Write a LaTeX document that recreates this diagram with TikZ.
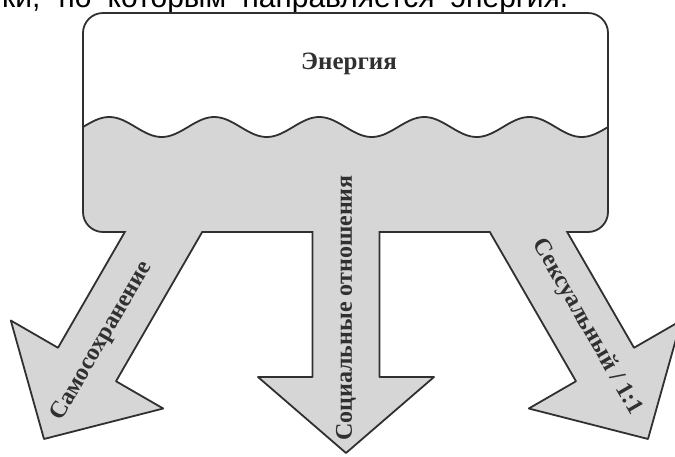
\documentclass[tikz,border=0pt]{standalone}
\usepackage{fontspec}
\setmainfont{Liberation Serif}
\newfontfamily\capfont{Liberation Sans}
\usetikzlibrary{calc,positioning}
\definecolor{tankgray}{RGB}{214,214,214}
\definecolor{inkgray}{RGB}{48,48,48}
\tikzset{
tank line/.style={draw=inkgray, line width=1.8pt, line join=round}, % outlines of tank and arrows
flow fill/.style={fill=tankgray},
label text/.style={font=\bfseries\fontsize{24}{26}\selectfont, text=inkgray, inner sep=0pt},
}
% arrow outline in its own frame: #1 = where the head starts, #2 = tip
\newcommand{\flowpath}[2]{(-33.5,-30) -- (-33.5,#1) -- (-88,#1) -- (0,#2) -- (88,#1) -- (33.5,#1) -- (33.5,-30)}

\begin{document}
\begin{tikzpicture}[x=1pt,y=1pt,yscale=-1]
\useasboundingbox (0,0) rectangle (675,456);
\clip (0,0) rectangle (675,456);
%Caption line, cut by the page edge (justified in the source)
\node[anchor=base west, inner sep=0pt, text=black, font=\capfont\fontsize{30}{31}\selectfont] (caption) at (2,7.5) {\makebox[566pt][s]{ки, по которым направляется энергия.}};
%Tank liquid
\begin{scope}
\clip[rounded corners=20] (83,13) rectangle (608,232);
\fill[tankgray] plot[domain=83:608, samples=160] (\x,{127-10*sin(3.428571*(\x-83))}) -- (608,240) -- (83,240) -- cycle;
\end{scope}
%Tank outline
\draw[tank line, rounded corners=20] (83,13) rectangle (608,232);
%Wave
\draw[tank line] plot[domain=83:608, samples=160] (\x,{127-10*sin(3.428571*(\x-83))});
%Outlets
\coordinate (leftout) at (163.5,232);
\coordinate (midout) at (346,232);
\coordinate (rightout) at (528.5,232);
%Arrows
\foreach \org/\ang/\sh/\tip in {leftout/30/153/239, midout/0/145/221, rightout/-30/153/239}{
  \fill[flow fill, shift={(\org)}, rotate=\ang] \flowpath{\sh}{\tip} -- cycle;
}
\begin{scope}
\clip (0,231) rectangle (675,460);
\foreach \org/\ang/\sh/\tip in {leftout/30/153/239, midout/0/145/221, rightout/-30/153/239}{
  \draw[tank line, shift={(\org)}, rotate=\ang] \flowpath{\sh}{\tip};
}
\end{scope}
%Labels
\node[label text, font=\bfseries\fontsize{25}{27}\selectfont] (energy) at (349,64) {Энергия};
\node[label text, rotate=60] (selfkeep) at (102,341) {Самосохранение};
\node[label text, rotate=90] (social) at (346,308) {Социальные отношения};
\node[label text, rotate=-60] (sexual) at (587,327) {Сексуальный / 1:1};
\end{tikzpicture}
\end{document}
